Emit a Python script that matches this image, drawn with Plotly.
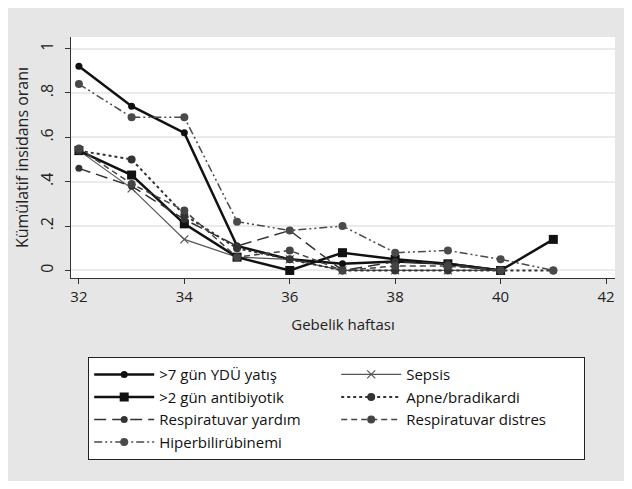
import plotly.graph_objects as go

weeks_a = [32, 33, 34, 35, 36, 37, 38, 39, 40]
weeks_b = [32, 33, 34, 35, 36, 37, 38, 39, 40, 41]

names = [">7 gün YDÜ yatış", "Sepsis", ">2 gün antibiyotik", "Apne/bradikardi",
         "Respiratuvar yardım", "Respiratuvar distres", "Hiperbilirübinemi"]

ydu7 = [0.92, 0.74, 0.62, 0.11, 0.05, 0.03, 0.04, 0.03, 0.0]
sepsis = [0.54, 0.37, 0.14, 0.06, 0.05, 0.0, 0.0, 0.0, 0.0]
antib2 = [0.54, 0.43, 0.21, 0.06, 0.0, 0.08, 0.05, 0.03, 0.0, 0.14]
apne = [0.54, 0.50, 0.25, 0.10, 0.05, 0.0, 0.0, 0.0, 0.0, 0.0]
resp_yardim = [0.46, 0.38, 0.23, 0.11, 0.18, 0.0, 0.04, 0.03, 0.0]
resp_distres = [0.55, 0.39, 0.27, 0.06, 0.09, 0.0, 0.02, 0.02, 0.0]
hiperbil = [0.84, 0.69, 0.69, 0.22, 0.18, 0.20, 0.08, 0.09, 0.05, 0.0]

xticks = [32, 34, 36, 38, 40, 42]
yticks = [0, 0.2, 0.4, 0.6, 0.8, 1.0]
yticktext = ["0", ".2", ".4", ".6", ".8", "1"]

series = [
    (names[0], weeks_a, ydu7, dict(color="#111", width=2.5, dash="solid"), dict(symbol="circle", size=7)),
    (names[1], weeks_a, sepsis, dict(color="#555", width=1.2, dash="solid"), dict(symbol="x-thin", size=8, line=dict(width=1.2, color="#555"))),
    (names[2], weeks_b, antib2, dict(color="#111", width=2.5, dash="solid"), dict(symbol="square", size=9)),
    (names[3], weeks_b, apne, dict(color="#333", width=2, dash="dot"), dict(symbol="circle", size=8)),
    (names[4], weeks_a, resp_yardim, dict(color="#333", width=1.5, dash="12px,6px"), dict(symbol="circle", size=7)),
    (names[5], weeks_a, resp_distres, dict(color="#444", width=1.5, dash="6px,4px"), dict(symbol="circle", size=8)),
    (names[6], weeks_b, hiperbil, dict(color="#4a4a4a", width=1.5, dash="8px,3px,2px,3px,2px,3px"), dict(symbol="circle", size=8)),
]

fig = go.Figure()
for name, xs, ys, ln, mk in series:
    mk = dict(mk)
    mk.setdefault("color", ln["color"])
    fig.add_trace(go.Scatter(x=xs, y=ys, name=name, mode="lines+markers", line=ln, marker=mk))

# page body adds an 8px white margin; figure is sized to fit inside it
W, H = 616, 473
L, T = 63, 29
R = W - (615 - 8)
B = H - (278 - 8)
pw, ph = W - L - R, H - T - B

def px(x):
    return (x - 8 - L) / pw

def py(y):
    return (H - B - (y - 8)) / ph

fig.update_layout(
    width=W, height=H,
    margin=dict(l=L, r=R, t=T, b=B, autoexpand=False),
    paper_bgcolor="#e6e6e6", plot_bgcolor="white",
    font=dict(family="Open Sans, Noto Sans, sans-serif", size=14, color="#222"),
    showlegend=True,
    legend=dict(
        orientation="h", x=px(88), y=py(357), xanchor="left", yanchor="top",
        entrywidth=172, entrywidthmode="pixels", itemwidth=60,
        bgcolor="white", bordercolor="#222", borderwidth=1.2,
        font=dict(size=15, color="#111"), tracegroupgap=0,
    ),
    xaxis=dict(
        range=[31.85, 42.17], tickvals=xticks, showgrid=False, zeroline=False,
        showline=True, linecolor="#333", linewidth=1.2, ticks="outside", ticklen=5,
        tickcolor="#333", tickfont=dict(size=15),
        title=dict(text="Gebelik haftası", font=dict(size=15), standoff=14),
    ),
    yaxis=dict(
        range=[-0.034, 1.052], tickvals=yticks, ticktext=yticktext, tickangle=-90,
        showgrid=True, gridcolor="#ebebeb", gridwidth=1.5, zeroline=False,
        showline=True, linecolor="#333", linewidth=1.2, ticks="outside", ticklen=5,
        tickcolor="#333", tickfont=dict(size=16), ticklabelstandoff=6,
        title=dict(text="Kümülatif insidans oranı", font=dict(size=16), standoff=2),
    ),
)

fig.write_html("out.html")
